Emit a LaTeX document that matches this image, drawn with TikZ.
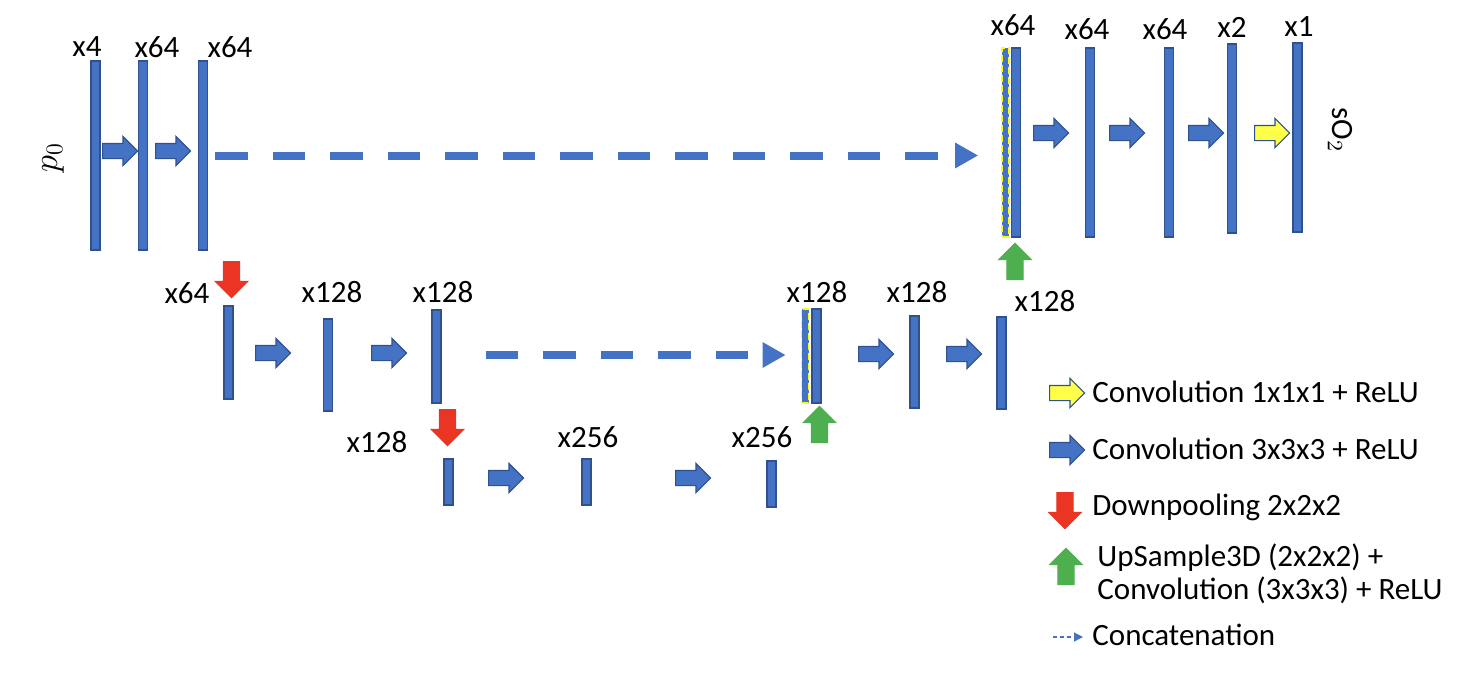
\documentclass[tikz,border=0pt]{standalone}
\usepackage{fontspec}
\setmainfont{Carlito}
\usetikzlibrary{arrows.meta,shapes.arrows}
\definecolor{bfill}{HTML}{4472C4}
\definecolor{bline}{HTML}{2F528F}
\definecolor{rfill}{HTML}{EA3424}
\definecolor{gfill}{HTML}{4EAF4E}
\definecolor{yfill}{HTML}{FFFF4A}
\definecolor{ydash}{HTML}{FFFF00}
\begin{document}
\begin{tikzpicture}[x=0.5pt,y=-0.5pt,
  bar/.style={rectangle, draw=bline, fill=bfill, line width=0.7pt, minimum width=4.5pt, inner sep=0pt},
  catbar/.style={rectangle, draw=ydash, fill=bfill, line width=0.8pt, dash pattern=on 3.5pt off 1.5pt, minimum width=3.5pt, inner sep=0pt},
  blkarrow/.style={single arrow, line width=0.6pt, minimum height=17.5pt, single arrow head extend=3.5pt, inner xsep=0pt, inner ysep=3.5pt, anchor=tail},
  convarrow/.style={blkarrow, draw=bline, fill=bfill},
  onearrow/.style={blkarrow, draw=bline, fill=yfill},
  vertarrow/.style={blkarrow, inner ysep=3.75pt, single arrow head extend=4pt, minimum height=18pt},
  downarrow/.style={vertarrow, draw=rfill, fill=rfill, rotate=-90},
  uparrow/.style={vertarrow, draw=gfill, fill=gfill, rotate=90},
  concat/.style={draw=bfill, line width=4pt, dash pattern=on 16.25pt off 12.5pt, -{Triangle[length=11.5pt,width=12pt]}},
  lbl/.style={font=\fontsize{15.5}{18}\selectfont, inner sep=0pt},
  legtext/.style={font=\fontsize{15.5}{18}\selectfont, inner sep=0pt, anchor=west, align=left}
]
\useasboundingbox (0,0) rectangle (1478,682);

% ---------- top row ----------
\node[bar, minimum height=94.5pt] (t1) at (95.5,155.5) {};
\node[bar, minimum height=94.5pt] (t2) at (143,155.5) {};
\node[bar, minimum height=94.5pt] (t3) at (203,155.5) {};
\node[catbar, minimum height=94.5pt] (tc) at (1005.5,142.5) {};
\node[bar, minimum height=94.5pt] (t4) at (1016,142.5) {};
\node[bar, minimum height=94.5pt] (t5) at (1090,142.5) {};
\node[bar, minimum height=94.5pt] (t6) at (1169,142.5) {};
\node[bar, minimum height=94.5pt] (t7) at (1232,138.5) {};
\node[bar, minimum height=94.5pt] (t8) at (1297.5,137.5) {};

\node[lbl] (lt1) at (87,47) {x4};
\node[lbl] (lt2) at (157,47) {x64};
\node[lbl] (lt3) at (230,47) {x64};
\node[lbl] (lt4) at (1013,25) {x64};
\node[lbl] (lt5) at (1087,29) {x64};
\node[lbl] (lt6) at (1165,29) {x64};
\node[lbl] (lt7) at (1232,27) {x2};
\node[lbl] (lt8) at (1299,27) {x1};

\node[inner sep=0pt, rotate=90, font=\fontsize{18}{20}\selectfont] (pin) at (53,158) {$p_0$};
\node[lbl, rotate=-90] (sout) at (1340,130) {sO$_2$};

\node[convarrow] (a1) at (102,151) {};
\node[convarrow] (a2) at (155,151) {};
\node[convarrow] (a3) at (1033,133) {};
\node[convarrow] (a4) at (1109,133) {};
\node[convarrow] (a5) at (1188,133) {};
\node[onearrow] (a6) at (1254,133) {};

\draw[concat, shorten <=3.5pt, shorten >=11.5pt] (t3.east) -- (t3.east -| tc.west);

\node[downarrow] (d1) at (231.5,261) {};
\node[uparrow] (u1) at (1015,280) {};

% ---------- middle row ----------
\node[bar, minimum height=46.5pt] (m1) at (228.5,352.5) {};
\node[bar, minimum height=46pt] (m2) at (328,365) {};
\node[bar, minimum height=46.5pt] (m3) at (436.5,356.5) {};
\node[catbar, minimum height=47pt] (mc) at (805,356) {};
\node[bar, minimum height=47pt] (m4) at (816.5,356) {};
\node[bar, minimum height=46pt] (m5) at (914.5,362) {};
\node[bar, minimum height=46pt] (m6) at (1001.5,363) {};

\node[lbl] (lm1) at (187,293) {x64};
\node[lbl] (lm2) at (332,292) {x128};
\node[lbl] (lm3) at (443,292) {x128};
\node[lbl] (lm4) at (817,292) {x128};
\node[lbl] (lm5) at (917,292) {x128};
\node[lbl] (lm6) at (1045,301) {x128};

\node[convarrow] (a7) at (255,353) {};
\node[convarrow] (a8) at (371,353) {};
\node[convarrow] (a9) at (858,354) {};
\node[convarrow] (a10) at (946,354) {};

\draw[concat, shorten <=22pt, shorten >=7.5pt] (m3.east |- 0,355) -- (mc.west |- 0,355);

\node[downarrow] (d2) at (447.5,409) {};
\node[uparrow] (u2) at (819.5,443) {};

% ---------- bottom row ----------
\node[bar, minimum height=23pt] (b1) at (448.5,482) {};
\node[bar, minimum height=23pt] (b2) at (586.5,482) {};
\node[bar, minimum height=23pt] (b3) at (771.5,484) {};

\node[lbl] (lb1) at (377,442) {x128};
\node[lbl] (lb2) at (588,437) {x256};
\node[lbl] (lb3) at (762,437) {x256};

\node[convarrow] (a11) at (488,478) {};
\node[convarrow] (a12) at (675,478) {};

% ---------- legend ----------
\node[onearrow] (k1) at (1049,393) {};
\node[legtext] (k1t) at (1092,392) {Convolution 1x1x1 + ReLU};
\node[convarrow] (k2) at (1049,450) {};
\node[legtext] (k2t) at (1092,449) {Convolution 3x3x3 + ReLU};
\node[downarrow] (k3) at (1065,492) {};
\node[legtext] (k3t) at (1092,507) {Downpooling 2x2x2};
\node[uparrow] (k4) at (1066,585) {};
\node[legtext] (k4t) at (1097,574) {UpSample3D (2x2x2) +\\[-1.5pt]Convolution (3x3x3) + ReLU};
\coordinate (k5a) at (1053,637);
\coordinate (k5b) at (1083,637);
\draw[draw=bfill, line width=0.6pt, dash pattern=on 2pt off 1.5pt, -{Triangle[length=4.5pt,width=4.5pt]}] (k5a) -- (k5b);
\node[legtext] (k5t) at (1092,635) {Concatenation};
\end{tikzpicture}
\end{document}
